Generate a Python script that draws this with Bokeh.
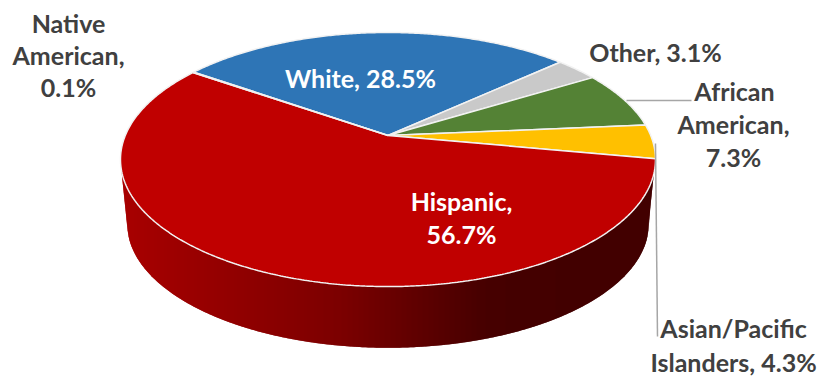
import math

import numpy as np
from bokeh.core.properties import value
from bokeh.embed import file_html
from bokeh.plotting import figure
from bokeh.resources import INLINE

# Clockwise from the top-left edge of the White slice
groups = ["White", "Other", "African American", "Asian/Pacific Islanders", "Hispanic", "Native American"]
shares = [28.5, 3.1, 7.3, 4.3, 56.7, 0.1]
slice_colors = ["#2e75b6", "#c9c9c9", "#548235", "#ffc000", "#c00000", "#264478"]

dark_labels = [
    ("Native", 68, 22), ("American,", 68, 54), ("0.1%", 68, 86),
    ("Other, 3.1%", 655, 51),
    ("African", 734, 90), ("American,", 733, 123), ("7.3%", 733, 156),
    ("Asian/Pacific", 733, 327), ("Islanders, 4.3%", 733, 361),
]
light_labels = [("White, 28.5%", 360, 77), ("Hispanic,", 461, 200), ("56.7%", 461, 233)]

START_DEG = 305.0
CX, APEX_Y = 387.5, 135.0
A, B, K = 262.7, 122.5, 0.189
DEPTH = 65.0
BASE_SCALE = 0.975


def rim(deg, scale=1.0, drop=0.0):
    """Perspective projection of a point on the pie's rim; 0 deg is the far side."""
    t = math.radians(deg)
    u, v = math.sin(t), -math.cos(t)
    w = 1 - K * v
    return CX + scale * A * u / w, APEX_Y + drop + scale * B * v / w


def wall_color(x):
    # Side wall darkens from left to right, then holds near-black red
    stops = [(120, (168, 0, 0)), (340, (124, 0, 0)), (480, (72, 0, 0)),
             (520, (68, 0, 0)), (660, (66, 0, 0))]
    for (x0, c0), (x1, c1) in zip(stops, stops[1:]):
        if x <= x1:
            f = max(0.0, (x - x0) / (x1 - x0))
            return "#%02x%02x%02x" % tuple(round(a + (b - a) * f) for a, b in zip(c0, c1))
    return "#420000"


p = figure(width=830, height=377, x_range=(0, 830), y_range=(377, 0),
           output_backend="svg", toolbar_location=None, min_border=0)
p.axis.visible = False
p.grid.visible = False
p.outline_line_color = None
p.background_fill_color = "#ffffff"

# Side wall, as vertical strips between the top rim and the base rim; each strip
# runs one pixel under its right-hand neighbour so no seams show
sweep_degs = np.arange(100.0, 258.5, 0.5)
top_rim = np.array([rim(d) for d in sweep_degs])[::-1]
base_rim = np.array([rim(d, BASE_SCALE, DEPTH) for d in sweep_degs])[::-1]
lower_x = np.concatenate(([top_rim[0, 0]], base_rim[:, 0], [top_rim[-1, 0]]))
lower_y = np.concatenate(([top_rim[0, 1]], base_rim[:, 1], [top_rim[-1, 1]]))

wall_xs, wall_ys, wall_cols = [], [], []
last_x = int(top_rim[-1, 0])
for x in range(int(top_rim[0, 0]) + 1, last_x):
    x1 = min(x + 2, last_x)
    t0, t1 = np.interp([x, x1], top_rim[:, 0], top_rim[:, 1]) - 2
    b0, b1 = np.interp([x, x1], lower_x, lower_y)
    wall_xs.append([x, x1, x1, x])
    wall_ys.append([t0, t1, b1, b0])
    wall_cols.append(wall_color(x + 0.5))
p.patches(wall_xs, wall_ys, fill_color=wall_cols, fill_alpha=1.0, line_color=None)

# Top face: each slice spans the angle its share gives it
top_xs, top_ys = [], []
angle = START_DEG
for share in shares:
    sweep = share * 3.6
    steps = max(2, int(sweep * 2))
    pts = [rim(angle + sweep * i / steps) for i in range(steps + 1)]
    top_xs.append([CX] + [q[0] for q in pts])
    top_ys.append([APEX_Y] + [q[1] for q in pts])
    angle += sweep
p.patches(top_xs, top_ys, fill_color=slice_colors, fill_alpha=1.0,
          line_color="#f2f2f2", line_alpha=1.0, line_width=1.5)

# Leader lines for the two outside labels that need them
p.line([626, 691], [100, 100], line_color="#a6a6a6", line_width=1.5)
p.line([655, 657], [143, 336], line_color="#a6a6a6", line_width=1.5)

for rows, color in ((dark_labels, "#404040"), (light_labels, "#ffffff")):
    p.text([r[1] for r in rows], [r[2] for r in rows], text=[r[0] for r in rows],
           text_font=value("Lato"), text_font_style="bold", text_font_size="25px",
           text_color=color, text_align="center", text_baseline="middle")

open("out.html", "w").write(file_html(p, INLINE))
